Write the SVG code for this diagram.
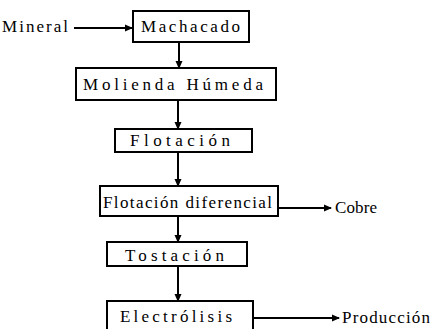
<svg xmlns="http://www.w3.org/2000/svg" width="433" height="329" viewBox="0 0 433 329">
<style>
  .box { fill: #ffffff; stroke: #000000; stroke-width: 2; }
  .lbl { font-family: "Liberation Serif", "Times New Roman", serif; font-size: 17px; fill: #000000; }
  .edge { stroke: #000000; stroke-width: 2; fill: none; }
</style>
<defs>
  <marker id="ah" markerWidth="8" markerHeight="8" refX="7" refY="4" orient="auto" markerUnits="userSpaceOnUse">
    <path d="M0,0.5 L8,4 L0,7.5 Z" fill="#000000"/>
  </marker>
</defs>
<rect width="433" height="329" fill="#ffffff"/>
<g id="connectors">
  <line class="edge" x1="74" y1="28" x2="132" y2="28" marker-end="url(#ah)"/>
  <line class="edge" x1="179" y1="42" x2="179" y2="68" marker-end="url(#ah)"/>
  <line class="edge" x1="178" y1="100" x2="178" y2="129" marker-end="url(#ah)"/>
  <line class="edge" x1="178" y1="152" x2="178" y2="186" marker-end="url(#ah)"/>
  <line class="edge" x1="278" y1="208" x2="331" y2="208" marker-end="url(#ah)"/>
  <line class="edge" x1="178" y1="216" x2="178" y2="242" marker-end="url(#ah)"/>
  <line class="edge" x1="178" y1="266" x2="178" y2="301" marker-end="url(#ah)"/>
  <line class="edge" x1="252" y1="318" x2="339" y2="318" marker-end="url(#ah)"/>
</g>
<g id="mineral"><text class="lbl" x="2" y="32" textLength="66" lengthAdjust="spacing">Mineral</text></g>
<g id="machacado">
  <rect class="box" x="133" y="11" width="116" height="31"/>
  <text class="lbl" x="141" y="32" textLength="99" lengthAdjust="spacing">Machacado</text>
</g>
<g id="molienda">
  <rect class="box" x="76" y="68" width="200" height="32"/>
  <text class="lbl" x="83" y="90" textLength="180" lengthAdjust="spacing">Molienda  Húmeda</text>
</g>
<g id="flotacion">
  <rect class="box" x="115" y="129" width="137" height="23"/>
  <text class="lbl" x="130" y="146" textLength="100" lengthAdjust="spacing">Flotación</text>
</g>
<g id="flotacion-diferencial">
  <rect class="box" x="100" y="186" width="178" height="30"/>
  <text class="lbl" x="103" y="208" textLength="169" lengthAdjust="spacing">Flotación diferencial</text>
</g>
<g id="cobre"><text class="lbl" x="335" y="213" textLength="42" lengthAdjust="spacing">Cobre</text></g>
<g id="tostacion">
  <rect class="box" x="107" y="242" width="140" height="24"/>
  <text class="lbl" x="125" y="261" textLength="99" lengthAdjust="spacing">Tostación</text>
</g>
<g id="electrolisis">
  <rect class="box" x="107" y="301" width="146" height="31"/>
  <text class="lbl" x="120" y="322" textLength="112" lengthAdjust="spacing">Electrólisis</text>
</g>
<g id="produccion"><text class="lbl" x="342" y="323" textLength="88" lengthAdjust="spacing">Producción</text></g>
</svg>
